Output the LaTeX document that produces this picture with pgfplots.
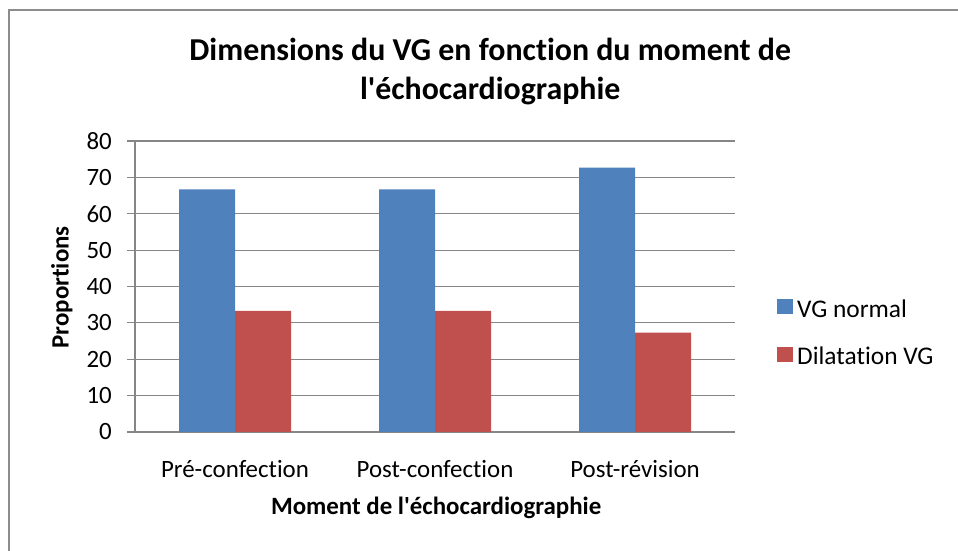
\documentclass[border=0pt]{standalone}
\usepackage{fontspec}
\setmainfont{Carlito}[Ligatures={TeXOff,CommonOff}]
\usepackage{pgfplots}
\pgfplotsset{compat=1.18}
\definecolor{vgblue}{HTML}{4F81BD}
\definecolor{vgred}{HTML}{C0504D}
\definecolor{gridgray}{HTML}{868686}
\definecolor{bordergray}{HTML}{8C8C8C}
\begin{document}
\begin{tikzpicture}[x=1bp,y=1bp]
\useasboundingbox (0,0) rectangle (958,551);
\fill[white] (0,0) rectangle (958,551);
\draw[bordergray, line width=2.5bp] (9,-5) -- (9,541) -- (965,541);
\begin{axis}[
  at={(135bp,119bp)}, anchor=south west,
  scale only axis, width=600bp, height=291bp,
  ybar=0pt, bar width=56bp,
  xmin=-0.5, xmax=2.5, ymin=0, ymax=80,
  xtick={0,1,2},
  xticklabels={Pré-confection, Post-confection, Post-révision},
  ytick={0,10,...,80},
  axis x line*=bottom, axis y line*=left,
  axis line style={gridgray, line width=1.2bp, -},
  ymajorgrids, grid style={gridgray, line width=1.2bp},
  xtick style={draw=none},
  ytick style={gridgray, line width=1.2bp},
  tick align=outside, major tick length=8bp,
  /pgf/number format/assume math mode=true,
  tick label style={font=\fontsize{25}{30}\selectfont, text=black},
  xticklabel style={anchor=base, yshift=-38bp},
  yticklabel style={anchor=east, inner sep=0pt, xshift=-15bp},
  ylabel={Proportions},
  ylabel style={at={(axis description cs:-0.122,0.497)}, anchor=center, font=\bfseries\fontsize{25}{30}\selectfont},
  xlabel={Moment de l'échocardiographie},
  xlabel style={at={(axis description cs:0.502,-0.262)}, anchor=center, font=\bfseries\fontsize{25}{30}\selectfont},
  title={Dimensions du VG en fonction du moment de\\l'échocardiographie},
  title style={at={(axis description cs:0.592,1.218)}, anchor=center, align=center, font=\bfseries\fontsize{32}{40}\selectfont},
  legend style={at={(axis description cs:1.07,0.34)}, anchor=west, draw=none, fill=none,
    font=\fontsize{25.5}{30}\selectfont, row sep=24bp, inner sep=0pt,
    nodes={inner xsep=4bp}},
  legend cell align=left,
]
\addplot[fill=vgblue, draw=none, legend image code/.code={\fill[vgblue] (0bp,-5bp) rectangle (16bp,10bp);}] coordinates {(0,66.7) (1,66.7) (2,72.7)};
\addplot[fill=vgred, draw=none, legend image code/.code={\fill[vgred] (0bp,-5bp) rectangle (16bp,10bp);}] coordinates {(0,33.3) (1,33.3) (2,27.3)};
\legend{VG normal, Dilatation VG}
\end{axis}
\end{tikzpicture}
\end{document}
